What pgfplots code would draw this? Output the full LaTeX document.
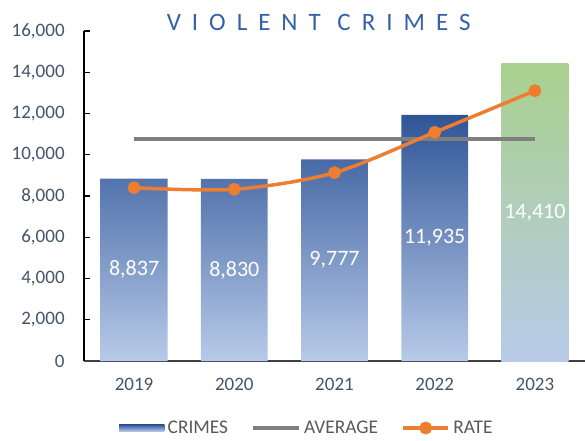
\documentclass[border=0pt]{standalone}
\usepackage{fontspec}
\setmainfont{Carlito}
\newfontfamily\titlefont[LetterSpace=44]{Carlito}
\usepackage{pgfplots}
\pgfplotsset{compat=1.18}
\definecolor{barblue}{HTML}{2F5597}
\definecolor{barlight}{HTML}{B8CAE9}
\definecolor{bargreen}{HTML}{A9D18E}
\definecolor{avggray}{HTML}{7F7F7F}
\definecolor{rateorange}{HTML}{ED7D31}
\definecolor{ticktext}{HTML}{44546A}
\definecolor{titleblue}{HTML}{3461A8}
\definecolor{legtext}{HTML}{595959}
\begin{document}
\begin{tikzpicture}
\begin{axis}[
  scale only axis,
  width=375.75pt, height=247.5pt,
  xmin=-0.5, xmax=4.5, ymin=0, ymax=16000,
  xtick={0,...,4}, xticklabels={2019,2020,2021,2022,2023},
  ytick={0,2000,...,16000},
  scaled y ticks=false,
  /pgf/number format/assume math mode=true,
  axis x line*=bottom, axis y line*=left,
  x axis line style={draw=black!75, line width=1pt},
  y axis line style={draw=black, line width=0.9pt},
  tick align=inside,
  major tick length=4.5pt,
  xtick style={draw=none},
  ytick style={draw=black, line width=0.8pt},
  tick label style={font=\fontsize{14.25}{16}\selectfont, text=ticktext},
  yticklabel style={xshift=-11pt},
  xticklabel style={yshift=-9pt},
  legend style={at={(rel axis cs:0.446,-0.203)}, anchor=center, draw=none, fill=none,
    font=\fontsize{14.5}{16}\selectfont, text=legtext, inner sep=0pt,
    nodes={inner xsep=2.5pt},
    /tikz/every even column/.append style={column sep=15pt}},
  legend columns=3,
  legend cell align=left,
  clip=false,
]
\coordinate (O) at (rel axis cs:0,0);

% crimes 2019-2022
\addplot[ybar, bar width=0.667, bar shift=0pt, draw=none,
  top color=barblue, middle color=barblue, bottom color=barlight,
  nodes near coords, visualization depends on={y \as \rawy},
  every node near coord/.append style={anchor=center, shift={(axis direction cs:0,-\rawy/2)},
    text=white, font=\fontsize{16.5}{18}\selectfont},
  legend image code/.code={\shade[top color=barblue, bottom color=barlight] (0pt,-2.5pt) rectangle (34pt,2.5pt);}]
  coordinates {(0,8837)(1,8830)(2,9777)(3,11935)};
\addlegendentry{CRIMES}

% crimes 2023
\addplot[ybar, bar width=0.667, bar shift=0pt, draw=none, forget plot,
  top color=bargreen, middle color=bargreen!85!barlight, bottom color=barlight,
  nodes near coords, visualization depends on={y \as \rawy},
  every node near coord/.append style={anchor=center, shift={(axis direction cs:0,-\rawy/2)},
    text=white, font=\fontsize{16.5}{18}\selectfont}]
  coordinates {(4,14410)};

% average
\addplot[avggray, line width=3pt,
  legend image code/.code={\draw[avggray, line width=3pt] (0pt,0pt) -- (34pt,0pt);}]
  coordinates {(0,10758)(1,10758)(2,10758)(3,10758)(4,10758)};
\addlegendentry{AVERAGE}

% rate
\addplot[rateorange, line width=2.6pt, smooth, mark=*, mark size=3.5pt,
  legend image code/.code={\draw[rateorange, line width=2.6pt] (0pt,0pt) -- (34pt,0pt);
    \fill[rateorange] (17pt,0pt) circle (3.5pt);}]
  coordinates {(0,8402)(1,8324)(2,9130)(3,11088)(4,13105)};
\addlegendentry{RATE}
\end{axis}
\node[font=\titlefont\fontsize{18.75}{20}\selectfont, text=titleblue]
  at ([shift={(176pt,254.25pt)}]O) {VIOLENT CRIMES};
\pgfresetboundingbox
\path[use as bounding box] (O) ++(-63pt,-59.25pt) rectangle ++(438.75pt,330pt);
\end{tikzpicture}
\end{document}
